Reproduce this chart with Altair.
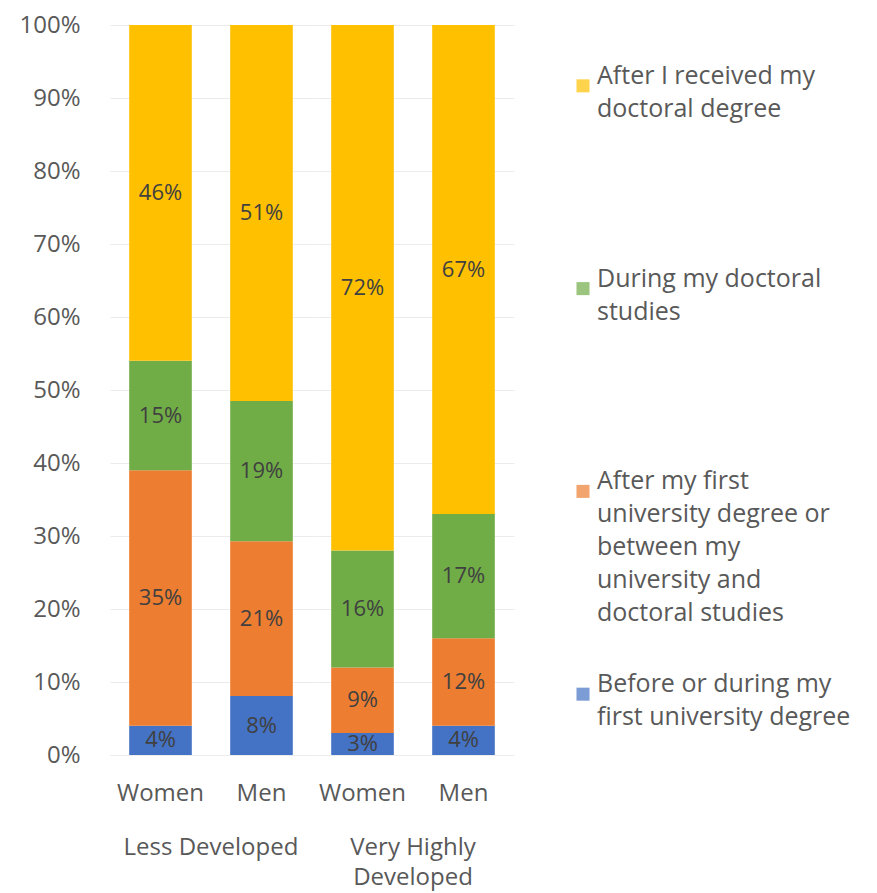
import altair as alt
import pandas as pd

# ---- data ----
groups = ["Less Developed", "Very Highly Developed"]
genders = ["Women", "Men"]
stages = [
    "Before or during my first university degree",
    "After my first university degree or between my university and doctoral studies",
    "During my doctoral studies",
    "After I received my doctoral degree",
]
legend_labels = [
    "Before or during my\nfirst university degree",
    "After my first\nuniversity degree or\nbetween my\nuniversity and\ndoctoral studies",
    "During my doctoral\nstudies",
    "After I received my\ndoctoral degree",
]
colors = ["#4472C4", "#ED7D31", "#70AD47", "#FFC000"]

ld_women = [4, 35, 15, 46]
ld_men = [8, 21, 19, 51]
vhd_women = [3, 9, 16, 72]
vhd_men = [4, 12, 17, 67]

series = {
    ("Less Developed", "Women"): ld_women,
    ("Less Developed", "Men"): ld_men,
    ("Very Highly Developed", "Women"): vhd_women,
    ("Very Highly Developed", "Men"): vhd_men,
}

rows = []
for (g, s), vals in series.items():
    for i, (st, v) in enumerate(zip(stages, vals)):
        rows.append({"group": g, "gender": s, "stage": st, "order": i,
                     "value": v, "label": f"{v}%"})
df = pd.DataFrame(rows)

FONT = "Open Sans"
GRAY = "#595959"

base = alt.Chart().transform_stack(
    stack="value",
    groupby=["group", "gender"],
    as_=["y0", "y1"],
    offset="normalize",
    sort=[alt.SortField("order", order="ascending")],
).transform_calculate(mid="(datum.y0 + datum.y1) / 2")

xenc = alt.X(
    "gender:N",
    sort=genders,
    scale=alt.Scale(paddingInner=0.38, paddingOuter=0.19),
    axis=alt.Axis(title=None, labelAngle=0, ticks=False, domain=False,
                  labelFontSize=24, labelColor=GRAY, labelFont=FONT,
                  labelPadding=25),
)

bars = base.mark_bar().encode(
    x=xenc,
    y=alt.Y("y0:Q", scale=alt.Scale(domain=[0, 1]),
            axis=alt.Axis(title=None, format=".0%",
                          values=[i / 10 for i in range(11)],
                          ticks=False, domain=False, labelFontSize=24,
                          labelColor=GRAY, labelFont=FONT, labelPadding=30,
                          gridColor="#ececec")),
    y2="y1:Q",
    color=alt.Color("stage:N", scale=alt.Scale(domain=stages, range=colors),
                    legend=None),
)

labels = base.mark_text(fontSize=22, color="#404040", font=FONT).encode(
    x=xenc,
    y=alt.Y("mid:Q"),
    text="label:N",
)

main = alt.layer(bars, labels, data=df).properties(
    width=202, height=730
).facet(
    column=alt.Column(
        "group:N", sort=groups,
        header=alt.Header(
            title=None, labelOrient="bottom", labelFontSize=24,
            labelColor=GRAY, labelFont=FONT, labelPadding=31,
            labelLineHeight=30,
            labelExpr="datum.value == 'Very Highly Developed' ? ['Very Highly', 'Developed'] : datum.value",
        ),
    ),
    spacing=0,
)

leg_df = pd.DataFrame({"stage": stages, "text": legend_labels})
leg_y = alt.Y("stage:N", sort=list(reversed(stages)), axis=None,
              scale=alt.Scale(type="point", padding=0.3))

leg_sq = alt.Chart(leg_df).mark_square(size=170, dy=-21).encode(
    x=alt.value(8),
    y=leg_y,
    color=alt.Color("stage:N", scale=alt.Scale(domain=stages, range=colors),
                    legend=None),
)
leg_tx = alt.Chart(leg_df).mark_text(
    align="left", baseline="top", fontSize=25, lineHeight=33,
    lineBreak="\n", color=GRAY, font=FONT, dy=-22,
).encode(
    x=alt.value(22),
    y=leg_y,
    text="text:N",
)
legend = alt.layer(leg_sq, leg_tx).properties(width=270, height=730)

chart = alt.hconcat(main, legend, spacing=61).properties(
    padding={"left": 10, "top": 5, "right": 0, "bottom": 2}
).configure_view(stroke=None)

chart.save("out.html", embed_options={"renderer": "svg", "actions": False})
